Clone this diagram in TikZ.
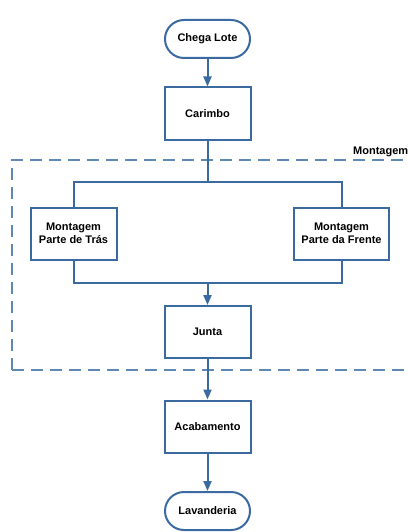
\documentclass[tikz,border=0pt]{standalone}
\usepackage{fontspec}
\setmainfont{Liberation Sans}
\usetikzlibrary{arrows.meta}
\definecolor{flow}{HTML}{3A6AA0}
\definecolor{groupline}{HTML}{5F88B5}
\begin{document}
\begin{tikzpicture}[x=1pt,y=-1pt,
  every node/.style={font=\bfseries\fontsize{11}{13}\selectfont, text=black, align=center},
  proc/.style={draw=flow, line width=2pt, fill=white, minimum width=86pt, minimum height=52pt, inner sep=0pt},
  term/.style={draw=flow, line width=2pt, fill=white, rounded corners=19pt, minimum width=85pt, minimum height=38pt, inner sep=0pt},
  conn/.style={draw=flow, line width=2pt},
  arr/.style={conn, -{Triangle[width=8pt,length=10pt]}},
  grp/.style={draw=groupline, line width=1.4pt, dash pattern=on 12pt off 7pt}]
\useasboundingbox (0,0) rectangle (407,532);
\begin{scope}
\clip (0,0) rectangle (407,532);
% group box
\draw[grp] (12,370) -- (12,160) -- (420,160);
\draw[grp] (12,370) -- (420,370);
\node[anchor=west, inner sep=0pt] (lbl) at (353,152) {Montagem};
\node[term] (chega) at (207.5,39) {Chega Lote};
\node[term] (lav) at (207.5,511) {Lavanderia};
\end{scope}
\node[proc] (car) at (207.5,113.5) {Carimbo};
\node[proc] (tras) at (73.5,233.5) {Montagem\\Parte de Trás};
\node[proc, minimum width=95pt] (frente) at (341.5,233.5) {Montagem\\Parte da Frente};
\node[proc] (junta) at (207.5,332) {Junta};
\node[proc] (acab) at (207.5,426.5) {Acabamento};
\coordinate (split) at (207.5,182);
\coordinate (merge) at (207.5,283);
\draw[arr] (chega) -- (car);
\draw[conn] (car.south) -- (split);
\draw[conn] (tras.north) |- (split) -| (frente.north);
\draw[conn] (tras.south) |- (merge) -| (frente.south);
\draw[arr] (merge) -- (junta.north);
\draw[arr] (junta) -- (acab);
\draw[arr] (acab.south) -- (lav.north);
\end{tikzpicture}
\end{document}
